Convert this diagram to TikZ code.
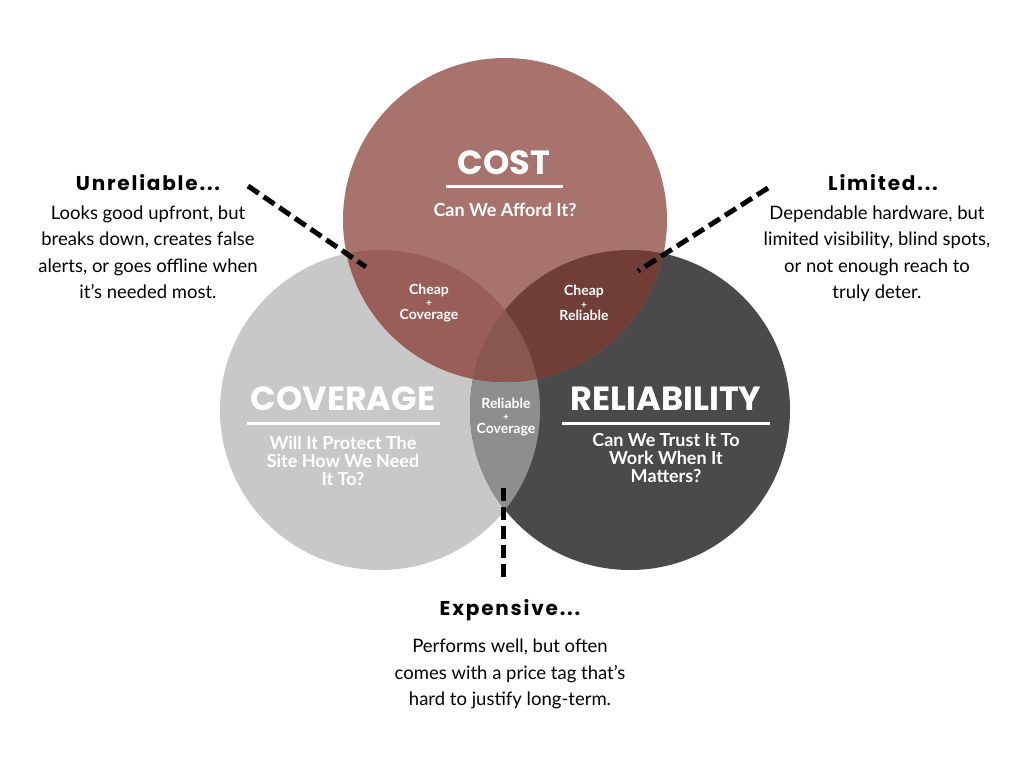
\documentclass[tikz,border=0pt]{standalone}
\usepackage{fontspec}
\setmainfont{Lato}
\newfontfamily\headfont{Poppins}
\newfontfamily\spacedfont[LetterSpace=9]{Poppins}
\usetikzlibrary{positioning}
\definecolor{costred}{HTML}{A8736C}
\definecolor{covgray}{HTML}{C8C8C8}
\definecolor{relgray}{HTML}{4A4A4A}
\definecolor{costcov}{HTML}{9A5E58}
\definecolor{costrel}{HTML}{713D37}
\definecolor{covrel}{HTML}{8E8E8E}
\definecolor{allthree}{HTML}{8A5650}
\newcommand{\lensplus}{{\fontsize{10}{12}\selectfont+}}
\tikzset{bigtitle/.style={font=\headfont\bfseries\fontsize{33.5}{33}\selectfont,text=white,inner sep=0pt}}
\tikzset{question/.style={font=\bfseries\fontsize{18}{18}\selectfont,text=white,align=center,inner sep=0pt}}
\tikzset{lens/.style={font=\bfseries\fontsize{14}{12.5}\selectfont,text=white,align=center,inner sep=0pt}}
\tikzset{heading/.style={font=\spacedfont\bfseries\fontsize{20}{20}\selectfont,inner sep=0pt}}
\tikzset{bodytext/.style={font=\fontsize{18.5}{26.5}\selectfont,align=center,inner sep=0pt}}
\tikzset{leader/.style={line width=5pt,dash pattern=on 13pt off 6pt}}
\tikzset{rule/.style={draw=white,line width=3pt}}

\begin{document}
\begin{tikzpicture}[x=1pt,y=-1pt]
  \useasboundingbox[fill=white] (0,0) rectangle (1024,768);
  % circles
  \coordinate (cost) at (505,220);
  \coordinate (cov) at (380,410);
  \coordinate (rel) at (630,410);
  \fill[covgray] (cov) circle[radius=160pt];
  \fill[relgray] (rel) circle[radius=160pt];
  \fill[costred] (cost) circle[radius=162pt];
  % overlaps
  \begin{scope}
    \clip (cov) circle[radius=160pt];
    \fill[covrel] (rel) circle[radius=160pt];
  \end{scope}
  \begin{scope}
    \clip (cost) circle[radius=162pt];
    \fill[costcov] (cov) circle[radius=160pt];
    \fill[costrel] (rel) circle[radius=160pt];
    \clip (cov) circle[radius=160pt];
    \fill[allthree] (rel) circle[radius=160pt];
  \end{scope}

  % circle titles
  \node[bigtitle] (costtitle) at (504,163) {COST};
  \draw[rule] (446,186) -- (563,186);
  \node[question] (costq) at (505,210) {Can We Afford It?};
  \node[bigtitle] (covtitle) at (343,399) {COVERAGE};
  \draw[rule] (247,423) -- (440,423);
  \node[question,anchor=north] (covq) at (343,436) {Will It Protect The\\Site How We Need\\It To?};
  \node[bigtitle] (reltitle) at (666,399) {RELIABILITY};
  \draw[rule] (562,423) -- (770,423);
  \node[question,anchor=north] (relq) at (666,433) {Can We Trust It To\\Work When It\\Matters?};

  % lens labels
  \node[lens] (cheapcov) at (429,303) {Cheap\\\lensplus\\Coverage};
  \node[lens] (cheaprel) at (584,303) {Cheap\\\lensplus\\Reliable};
  \node[lens] (relcov) at (506,417) {Reliable\\\lensplus\\Coverage};

  % side notes
  \node[heading] (unrel) at (148,183) {Unreliable...};
  \node[bodytext,below=14pt of unrel] (unrelbody) {Looks good upfront, but\\breaks down, creates false\\alerts, or goes offline when\\it’s needed most.};
  \node[heading] (limited) at (883,183) {Limited...};
  \node[bodytext,below=14pt of limited.south west,anchor=north,xshift=49pt] (limbody) {Dependable hardware, but\\limited visibility, blind spots,\\or not enough reach to\\truly deter.};
  \node[heading] (expensive) at (510,610) {Expensive...};
  \node[bodytext,below=18pt of expensive] (expbody) {Performs well, but often\\comes with a price tag that’s\\hard to justify long-term.};

  % leader lines
  \coordinate (unrelA) at (248,186);
  \coordinate (unrelB) at (366,267);
  \coordinate (limA) at (768,188);
  \coordinate (limB) at (638,271);
  \coordinate (expA) at (503,488);
  \coordinate (expB) at (503,582);
  \draw[leader] (unrelA) -- (unrelB);
  \draw[leader] (limA) -- (limB);
  \draw[leader] (expA) -- (expB);
\end{tikzpicture}
\end{document}
